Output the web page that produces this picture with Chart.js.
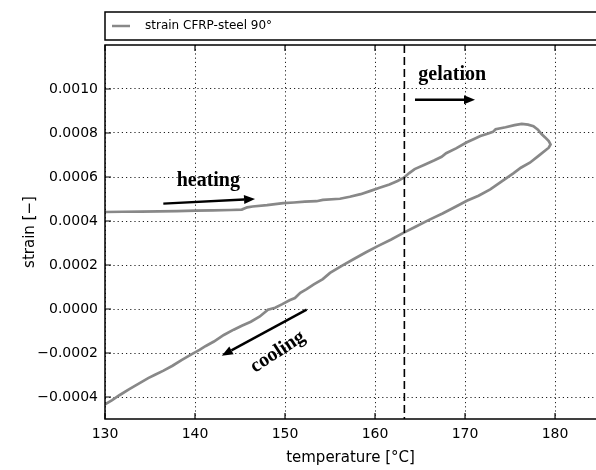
<!DOCTYPE html>
<html lang="en">
<head>
<meta charset="UTF-8" />
<title>strain CFRP-steel 90°</title>
<style>
  html, body { margin: 0; padding: 0; background: #fff; }
  #wrap { width: 596px; height: 470px; }
</style>
</head>
<body>
<div id="wrap"><canvas id="strainChart" width="596" height="470"></canvas></div>
<script src="https://cdn.jsdelivr.net/npm/chart.js"></script>
<script>
// values: heating branch, then cooling branch
const seriesLabel = 'strain CFRP-steel 90°';
const temperature = [
  130, 132, 134, 136, 138, 140, 142, 144, 145.2, 145.8, 146.4, 148, 149.8, 151, 152.2, 153.5,
  154.2, 156.1, 157.2, 158.4, 159.5, 160.5, 161.6, 162.5, 163.2, 163.8, 164.4, 165.5, 166.6,
  167.4, 167.9, 169, 170.2, 171, 171.7, 172.5, 173.1, 173.4, 174.5, 175.5, 176.3, 177, 177.6,
  178.1, 178.5, 178.9, 179.3, 179.5, 179.3,
  178.2, 177.2, 176.2, 175.4, 174.2, 172.8, 171.5, 170.2, 169, 167.5, 166, 164.5, 163.2, 161.8,
  160.3, 159, 157.6, 156.3, 155, 154.2, 153.2, 152.4, 151.7, 151.1, 150.5, 149.7, 148.9, 148.1,
  147.2, 146.2, 145.2, 144.3, 143.2, 142.1, 141.2, 140.5, 139.6, 138.5, 137.5, 136.5, 135.5,
  134.8, 133.8, 132.7, 131.6, 130.8, 130
];
const strain = [
  0.000441, 0.000442, 0.000443, 0.000444, 0.000445, 0.000447, 0.000448, 0.000450, 0.000452,
  0.000462, 0.000466, 0.000472, 0.000481, 0.000484, 0.000488, 0.000490, 0.000496, 0.000501,
  0.000510, 0.000522, 0.000537, 0.000551, 0.000566, 0.000582, 0.000597, 0.000618, 0.000636,
  0.000656, 0.000676, 0.000692, 0.000708, 0.000730, 0.000758, 0.000773, 0.000786, 0.000797,
  0.000805, 0.000817, 0.000826, 0.000836, 0.000841, 0.000838, 0.000831, 0.000815, 0.000795,
  0.000780, 0.000763, 0.000748, 0.000733,
  0.000697, 0.000665, 0.000642, 0.000618, 0.000584, 0.000544, 0.000515, 0.000492, 0.000466,
  0.000434, 0.000405, 0.000374, 0.000347, 0.000316, 0.000286, 0.000258, 0.000226, 0.000196,
  0.000164, 0.000136, 0.000112, 0.000090, 0.000074, 0.000050, 0.000040, 0.000022, 0.000006,
  -0.000003, -0.000034, -0.000058, -0.000076, -0.000094, -0.000118, -0.000148, -0.000168,
  -0.000186, -0.000206, -0.000232, -0.000258, -0.000280, -0.000300, -0.000314, -0.000338,
  -0.000364, -0.000392, -0.000414, -0.000433
];
const xTicks = [130, 140, 150, 160, 170, 180];
const yTicks = [-0.0004, -0.0002, 0, 0.0002, 0.0004, 0.0006, 0.0008, 0.0010];
const gelationTemp = 163.26;

const lineColor = '#888888';
const tickFont = { family: 'DejaVu Sans', size: 14 };
const titleFont = { family: 'DejaVu Sans', size: 15 };

function arrow(ctx, x0, y0, x1, y1) {
  const a = Math.atan2(y1 - y0, x1 - x0);
  const len = 11, hw = 4.5;
  const bx = x1 - len * Math.cos(a), by = y1 - len * Math.sin(a);
  ctx.beginPath();
  ctx.moveTo(x0, y0);
  ctx.lineTo(bx, by);
  ctx.stroke();
  ctx.beginPath();
  ctx.moveTo(x1, y1);
  ctx.lineTo(bx + hw * Math.sin(a), by - hw * Math.cos(a));
  ctx.lineTo(bx - hw * Math.sin(a), by + hw * Math.cos(a));
  ctx.closePath();
  ctx.fill();
}

// dashed gelation line, arrows, words, frame, inward ticks and the legend box
const extras = {
  id: 'extras',
  afterDatasetsDraw(chart) {
    const { ctx, chartArea: ca, scales: { x, y } } = chart;
    ctx.save();
    ctx.strokeStyle = '#000';
    ctx.lineWidth = 1.6;
    ctx.setLineDash([8, 4]);
    const gx = x.getPixelForValue(gelationTemp);
    ctx.beginPath();
    ctx.moveTo(gx, ca.top);
    ctx.lineTo(gx, ca.bottom);
    ctx.stroke();
    ctx.setLineDash([]);

    ctx.fillStyle = '#000';
    ctx.lineWidth = 2.4;
    arrow(ctx, x.getPixelForValue(136.48), y.getPixelForValue(0.000479),
      x.getPixelForValue(146.67), y.getPixelForValue(0.0005));
    arrow(ctx, x.getPixelForValue(164.44), y.getPixelForValue(0.000951),
      x.getPixelForValue(171.11), y.getPixelForValue(0.000951));
    arrow(ctx, x.getPixelForValue(152.4), y.getPixelForValue(-0.000003),
      x.getPixelForValue(142.97), y.getPixelForValue(-0.000212));

    ctx.font = 'bold 20px "Liberation Serif"';
    ctx.textAlign = 'left';
    ctx.textBaseline = 'alphabetic';
    ctx.fillText('heating', x.getPixelForValue(137.96), y.getPixelForValue(0.000557));
    ctx.fillText('gelation', x.getPixelForValue(164.81), y.getPixelForValue(0.001042));
    ctx.save();
    ctx.translate(x.getPixelForValue(149.2), y.getPixelForValue(-0.000195));
    ctx.rotate(-33 * Math.PI / 180);
    ctx.textAlign = 'center';
    ctx.textBaseline = 'middle';
    ctx.fillText('cooling', 0, 0);
    ctx.restore();

    // frame
    ctx.lineWidth = 1.5;
    ctx.strokeRect(ca.left, ca.top, ca.right - ca.left + 4, ca.bottom - ca.top);
    // inward ticks
    ctx.lineWidth = 1.2;
    ctx.beginPath();
    xTicks.forEach(v => {
      const px = x.getPixelForValue(v);
      ctx.moveTo(px, ca.bottom); ctx.lineTo(px, ca.bottom - 6);
      ctx.moveTo(px, ca.top); ctx.lineTo(px, ca.top + 6);
    });
    yTicks.forEach(v => {
      const py = y.getPixelForValue(v);
      ctx.moveTo(ca.left, py); ctx.lineTo(ca.left + 6, py);
    });
    ctx.stroke();

    // legend
    ctx.lineWidth = 1.5;
    ctx.strokeRect(ca.left, 12, chart.width, 28);
    ctx.strokeStyle = lineColor;
    ctx.lineWidth = 2.5;
    ctx.beginPath();
    ctx.moveTo(ca.left + 7, 26);
    ctx.lineTo(ca.left + 25, 26);
    ctx.stroke();
    ctx.fillStyle = '#000';
    ctx.font = '12px "DejaVu Sans"';
    ctx.textAlign = 'left';
    ctx.textBaseline = 'middle';
    ctx.fillText(chart.data.datasets[0].label, ca.left + 40, 26);
    ctx.restore();
  }
};

const fmtStrain = v => (Math.abs(v) < 1e-12 ? '0.0000' : v.toFixed(4).replace('-', '\u2212'));

new Chart(document.getElementById('strainChart'), {
  type: 'scatter',
  data: {
    datasets: [{
      label: seriesLabel,
      data: temperature.map((t, i) => ({ x: t, y: strain[i] })),
      showLine: true,
      borderColor: lineColor,
      borderWidth: 2.7,
      pointRadius: 0,
      tension: 0
    }]
  },
  options: {
    responsive: false,
    animation: false,
    layout: { padding: { top: 45, left: 0, right: 0, bottom: 0 } },
    plugins: { legend: { display: false }, tooltip: { enabled: false } },
    scales: {
      x: {
        type: 'linear',
        min: 130,
        max: 184.55,
        afterBuildTicks: s => { s.ticks = xTicks.map(v => ({ value: v })); },
        afterFit: s => { s.height = 51; },
        ticks: { color: '#000', font: tickFont, padding: 7, maxRotation: 0 },
        grid: { color: '#222', lineWidth: 1, drawTicks: false },
        border: { display: false, dash: [1.2, 3] },
        title: { display: true, text: 'temperature [°C]', color: '#000', font: titleFont, padding: { top: 0, bottom: 3 } }
      },
      y: {
        min: -0.0005,
        max: 0.0012,
        afterBuildTicks: s => { s.ticks = yTicks.map(v => ({ value: v })); },
        afterFit: s => { s.width = 105; },
        ticks: { color: '#000', font: tickFont, padding: 7, callback: v => fmtStrain(v) },
        grid: { color: '#222', lineWidth: 1, drawTicks: false },
        border: { display: false, dash: [1.2, 3] },
        title: { display: true, text: 'strain [\u2212]', color: '#000', font: titleFont, padding: { top: 21, bottom: 0 } }
      }
    }
  },
  plugins: [extras]
});
</script>
</body>
</html>
